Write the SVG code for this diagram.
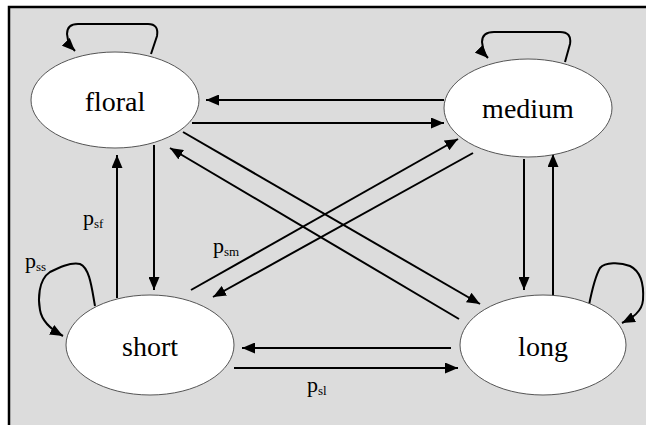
<svg xmlns="http://www.w3.org/2000/svg" width="646" height="425" viewBox="0 0 646 425">
<style>
.node ellipse{fill:#fff;stroke:#555;stroke-width:1}
.node text{font-family:'Liberation Serif','Times New Roman',Times,serif;font-size:28px;fill:#000;text-anchor:middle}
.e{fill:none;stroke:#000;stroke-width:2}
.lbl{font-family:'Liberation Serif','Times New Roman',Times,serif;font-size:22px;fill:#000}
.sub{font-size:13px}
</style>
<defs>
<marker id="ah" markerUnits="userSpaceOnUse" markerWidth="13" markerHeight="11" refX="13" refY="5.5" orient="auto" viewBox="0 0 13 11">
<path d="M0,0 L13,5.5 L0,11 z" fill="#000"/>
</marker>
</defs>
<rect x="9" y="7" width="720" height="500" fill="#dcdcdc" stroke="#000" stroke-width="2.5"/>
<g id="connectors">
<line class="e" x1="444" y1="100" x2="206" y2="100" marker-end="url(#ah)"/>
<line class="e" x1="192" y1="123" x2="444" y2="123" marker-end="url(#ah)"/>
<line class="e" x1="154" y1="145" x2="154" y2="290" marker-end="url(#ah)"/>
<line class="e" x1="117" y1="298" x2="117" y2="155" marker-end="url(#ah)"/>
<line class="e" x1="524" y1="159" x2="524" y2="290" marker-end="url(#ah)"/>
<line class="e" x1="553" y1="297" x2="553" y2="154" marker-end="url(#ah)"/>
<line class="e" x1="234" y1="368" x2="458" y2="368" marker-end="url(#ah)"/>
<line class="e" x1="451" y1="348" x2="242" y2="348" marker-end="url(#ah)"/>
<line class="e" x1="183" y1="132" x2="480" y2="304" marker-end="url(#ah)"/>
<line class="e" x1="459" y1="319" x2="170" y2="148" marker-end="url(#ah)"/>
<line class="e" x1="191" y1="290" x2="458" y2="139" marker-end="url(#ah)"/>
<line class="e" x1="473" y1="153" x2="213" y2="297" marker-end="url(#ah)"/>
<path class="e" d="M151,54 L157,36 Q159,24 148,24 L78,24 Q67,24 67,34 L68,40 Q70,46 75,51" marker-end="url(#ah)"/>
<path class="e" d="M565,62 L570,44 Q572,32 560,32 L494,32 Q482,32 482,42 L483,48 Q484,54 488,58" marker-end="url(#ah)"/>
<path class="e" d="M95,306 C92,290 90,268 80,264 C70,262 58,268 50,272 C38,280 38,300 40,310 C42,322 52,330 63,336" marker-end="url(#ah)"/>
<path class="e" d="M589,305 C592,290 596,275 600,268 C605,262 620,262 630,266 C642,272 644,285 643,300 C642,312 632,318 622,323" marker-end="url(#ah)"/>
<text class="lbl" x="83" y="225">p<tspan class="sub" dy="3">sf</tspan></text>
<text class="lbl" x="25" y="268">p<tspan class="sub" dy="3">ss</tspan></text>
<text class="lbl" x="213" y="253">p<tspan class="sub" dy="3">sm</tspan></text>
<text class="lbl" x="307" y="392">p<tspan class="sub" dy="3">sl</tspan></text>
</g>
<g id="floral" class="node"><ellipse cx="115" cy="100" rx="84" ry="48"/><text x="115" y="111">floral</text></g>
<g id="medium" class="node"><ellipse cx="528" cy="108" rx="84" ry="49"/><text x="528" y="118">medium</text></g>
<g id="short" class="node"><ellipse cx="150" cy="345" rx="84" ry="50"/><text x="150" y="356">short</text></g>
<g id="long" class="node"><ellipse cx="543" cy="345" rx="83" ry="50"/><text x="543" y="356">long</text></g>
</svg>
